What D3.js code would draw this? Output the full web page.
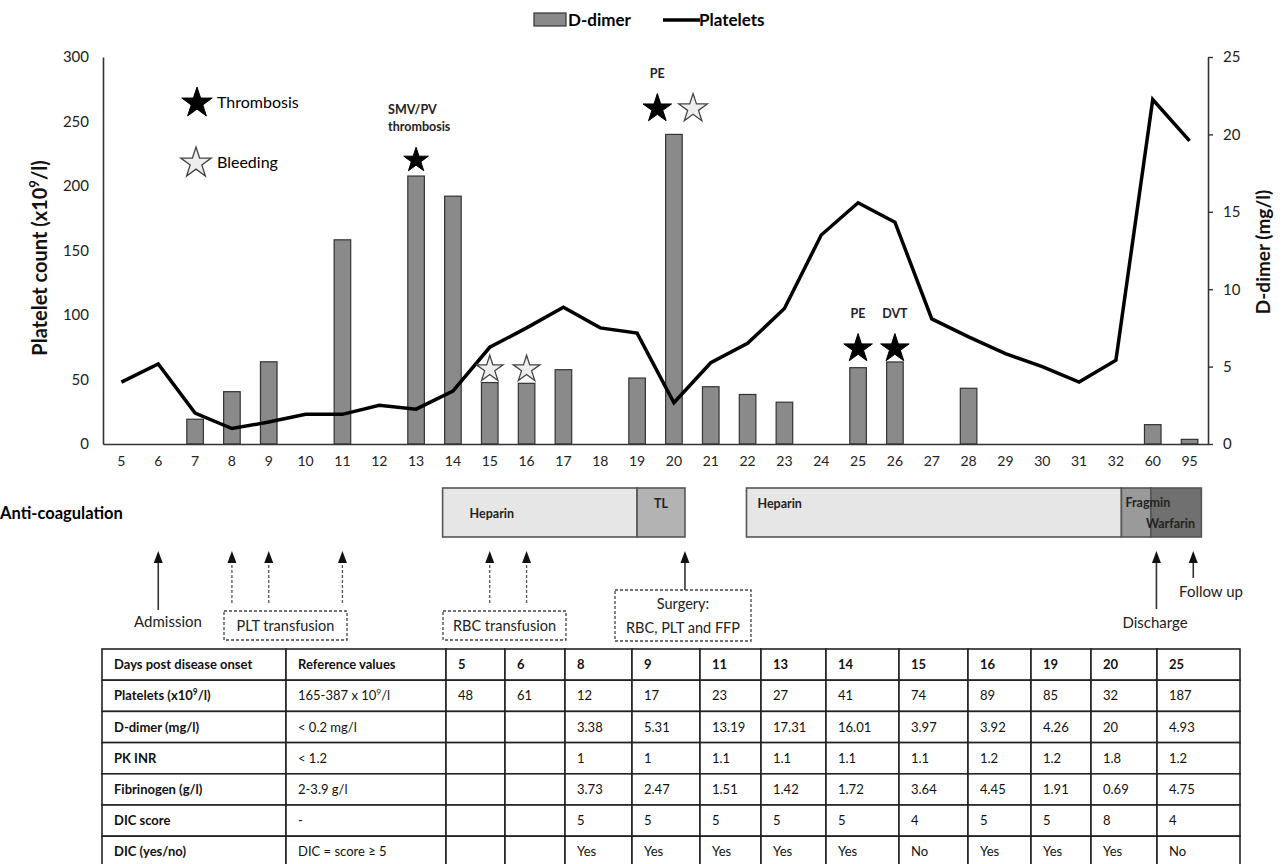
<!DOCTYPE html>
<html>
<head>
<meta charset="utf-8">
<script src="https://cdn.jsdelivr.net/npm/d3@7"></script>
<style>
  body { margin: 0; background: #fff; }
  svg { font-family: Lato, "Open Sans", sans-serif; }
</style>
</head>
<body>
<svg id="chart" width="1283" height="864"></svg>
<script>
// --- data ---
const days = ['5','6','7','8','9','10','11','12','13','14','15','16','17','18','19','20',
              '21','22','23','24','25','26','27','28','29','30','31','32','60','95'];
const platelets = [48,62,24,12,17,23,23,30,27,41,75,90,106,90,86,32,
                   63,78,105,162,187,172,97,83,70,60,48,65,267,235];
const ddimer = [null,null,1.6,3.38,5.31,null,13.19,null,17.31,16.01,3.97,3.92,4.8,null,4.26,20,
                3.7,3.2,2.7,null,4.93,5.3,null,3.6,null,null,null,null,1.25,0.3];

// events: day, kind, level on platelet scale
const eventDays   = ['13','15','16','20','20','25','26'];
const eventKinds  = ['thrombosis','bleeding','bleeding','thrombosis','bleeding','thrombosis','thrombosis'];
const eventLevels = [220,58,58,260,260,74,74];
const eventNotes  = [['SMV/PV','thrombosis'],[],[],['PE'],[],['PE'],['DVT']];

// anti-coagulation periods, in day-index units
const treatNames = ['Heparin','TL','Heparin','Fragmin','Warfarin'];
const treatFrom  = [8.72,14.0,16.97,27.15,27.95];
const treatTo    = [14.0,15.3,27.15,27.95,29.32];

// table
const tableHeader = ['Days post disease onset','Reference values','5','6','8','9','11','13','14','15','16','19','20','25'];
const tableRows = [
  ['Platelets (x10⁹/l)','165-387 x 10⁹/l','48','61','12','17','23','27','41','74','89','85','32','187'],
  ['D-dimer (mg/l)','< 0.2 mg/l','','','3.38','5.31','13.19','17.31','16.01','3.97','3.92','4.26','20','4.93'],
  ['PK INR','< 1.2','','','1','1','1.1','1.1','1.1','1.1','1.2','1.2','1.8','1.2'],
  ['Fibrinogen (g/l)','2-3.9 g/l','','','3.73','2.47','1.51','1.42','1.72','3.64','4.45','1.91','0.69','4.75'],
  ['DIC score','-','','','5','5','5','5','5','4','5','5','8','4'],
  ['DIC (yes/no)','DIC = score ≥ 5','','','Yes','Yes','Yes','Yes','Yes','No','Yes','Yes','Yes','No']
];

const svg = d3.select('#chart');

// writes text, turning "⁹" into a real superscript tspan
function supText(sel, str){
  var parts = str.split('⁹');
  parts.forEach(function(p,i){
    if (i > 0) sel.append('tspan').attr('baseline-shift','super').style('font-size','65%').text('9');
    sel.append('tspan').text(p);
  });
  return sel;
}

// --- scales ---
var x = d3.scaleBand().domain(days).range([103,1208]).padding(0);
var yL = d3.scaleLinear().domain([0,300]).range([444,57]);
var yR = d3.scaleLinear().domain([0,25]).range([444,57]);
var xi = function(i){ return x.range()[0] + x.step()*(i+0.5); };
var cx = function(d){ return x(d) + x.bandwidth()/2; };

// --- bars ---
var barW = x.step()*0.45;
svg.append('g').selectAll('rect')
  .data(days.map(function(d,i){ return {day:d, v:ddimer[i]}; }).filter(function(d){ return d.v != null; }))
  .enter().append('rect')
  .attr('x', function(d){ return cx(d.day) - barW/2; })
  .attr('y', function(d){ return yR(d.v); })
  .attr('width', barW)
  .attr('height', function(d){ return yR(0) - yR(d.v); })
  .style('fill','#8a8a8a').style('stroke','#333').style('stroke-width',1.2);

// --- axes ---
var axL = svg.append('g').attr('transform','translate(103,0)')
  .call(d3.axisLeft(yL).tickValues([0,50,100,150,200,250,300]).tickSize(0).tickPadding(14));
var axR = svg.append('g').attr('transform','translate(1208,0)')
  .call(d3.axisRight(yR).ticks(5).tickSizeInner(5).tickSizeOuter(0).tickPadding(10));
var axB = svg.append('g').attr('transform','translate(0,444)')
  .call(d3.axisBottom(x).tickSize(0).tickPadding(12));
[axL,axR,axB].forEach(function(a){
  a.select('.domain').style('stroke','#333').style('stroke-width',1.6);
  a.selectAll('.tick line').style('stroke','#333').style('stroke-width',1.4);
  a.selectAll('text').style('font-family','Lato, sans-serif').style('fill','#222');
});
axL.selectAll('text').style('font-size','15px');
axR.selectAll('text').style('font-size','15px');
axB.selectAll('text').style('font-size','14px');

supText(svg.append('text').attr('transform','translate(47,258) rotate(-90)')
  .attr('text-anchor','middle').style('font-size','20px').style('font-weight','bold').style('fill','#111'),
  'Platelet count (x10⁹/l)');
svg.append('text').attr('transform','translate(1270,252) rotate(-90)')
  .attr('text-anchor','middle').style('font-size','19px').style('font-weight','bold').style('fill','#111')
  .text('D-dimer (mg/l)');

// --- platelet line ---
var line = d3.line().x(function(d,i){ return cx(days[i]); }).y(function(d){ return yL(d); });
svg.append('path').datum(platelets).attr('d',line)
  .style('fill','none').style('stroke','#000').style('stroke-width',3.5).style('stroke-linejoin','miter');

// --- legend ---
var lg = svg.append('g').style('font-size','17px').style('font-weight','bold');
lg.append('rect').attr('x',534).attr('y',13).attr('width',32).attr('height',13)
  .style('fill','#8a8a8a').style('stroke','#333').style('stroke-width',1.2);
lg.append('text').attr('x',568).attr('y',26).text('D-dimer');
lg.append('line').attr('x1',663).attr('x2',700).attr('y1',20).attr('y2',20)
  .style('stroke','#000').style('stroke-width',3.5);
lg.append('text').attr('x',699).attr('y',26).text('Platelets');

// --- stars ---
function starPath(r){ return d3.symbol().type(d3.symbolStar).size(r*r/0.8908)(); }
function drawStar(g, px, py, r, kind){
  g.append('path').attr('d',starPath(r)).attr('transform','translate('+px+','+py+')')
    .style('fill', kind==='thrombosis' ? '#000' : '#eeeeee')
    .style('stroke', kind==='thrombosis' ? '#000' : '#444')
    .style('stroke-width', kind==='thrombosis' ? 1 : 1.3);
}
var sg = svg.append('g');
drawStar(sg, 197, 103, 16, 'thrombosis');
drawStar(sg, 196, 163, 16, 'bleeding');
sg.append('text').attr('x',217).attr('y',108).style('font-size','16px').text('Thrombosis');
sg.append('text').attr('x',217).attr('y',168).style('font-size','16px').text('Bleeding');

eventDays.forEach(function(d,i){
  var same = eventDays.filter(function(e){ return e===d; }).length;
  var first = eventDays.indexOf(d) === i;
  var shift = same > 1 ? (first ? -0.45 : 0.52) * x.step() : 0;
  var r = eventKinds[i]==='bleeding' && same===1 ? 14 : (d==='13' ? 13 : 15);
  var px = cx(d) + shift, py = yL(eventLevels[i]);
  drawStar(sg, px, py, r, eventKinds[i]);
  var notes = eventNotes[i];
  notes.forEach(function(t,j){
    sg.append('text')
      .attr('x', notes.length > 1 ? px - 28 : px)
      .attr('y', py - r - 16 - (notes.length-1-j)*17)
      .attr('text-anchor', notes.length > 1 ? 'start' : 'middle')
      .style('font-size','12.5px').style('font-weight','bold').style('fill','#222')
      .text(t);
  });
});

// --- anti-coagulation row ---
var ac = svg.append('g');
ac.append('text').attr('x',0).attr('y',519).style('font-size','16.5px').style('font-weight','bold').text('Anti-coagulation');
var treatFill = {'Heparin':'#e6e6e6','TL':'#b3b3b3','Fragmin':'#9a9a9a','Warfarin':'#707070'};
treatNames.forEach(function(n,i){
  ac.append('rect').attr('x',xi(treatFrom[i])).attr('y',488)
    .attr('width',xi(treatTo[i])-xi(treatFrom[i])).attr('height',49)
    .style('fill',treatFill[n]).style('stroke','#555').style('stroke-width',1.6);
});
var tl = ac.append('g').style('font-size','12.5px').style('font-weight','bold').style('fill','#222');
tl.append('text').attr('x',xi(treatFrom[0])+27).attr('y',518).text('Heparin');
tl.append('text').attr('x',(xi(treatFrom[1])+xi(treatTo[1]))/2).attr('y',508).attr('text-anchor','middle').text('TL');
tl.append('text').attr('x',xi(treatFrom[2])+11).attr('y',508).text('Heparin');
tl.append('text').attr('x',xi(treatFrom[3])+4).attr('y',507).text('Fragmin');
tl.append('text').attr('x',xi(treatFrom[4])-5).attr('y',528).text('Warfarin');

// --- arrows ---
var arrowPos  = [1, 3, 4, 6, 10, 11, 15.3, 28.1, 29.1];
var arrowEnd  = [610, 605, 605, 605, 605, 605, 590, 609, 578];
var arrowDash = [false, true, true, true, true, true, false, false, false];
var ar = svg.append('g');
arrowPos.forEach(function(p,i){
  var px = xi(p);
  ar.append('line').attr('x1',px).attr('x2',px).attr('y1',560).attr('y2',arrowEnd[i])
    .style('stroke', arrowDash[i] ? '#555' : '#333').style('stroke-width', arrowDash[i] ? 1.3 : 1.6)
    .style('stroke-dasharray', arrowDash[i] ? '3,2' : null);
  ar.append('path').attr('d','M'+px+',551 L'+(px-4.5)+',563 L'+(px+4.5)+',563 Z').style('fill','#111');
});

var boxes = [
  {x0:224, x1:347, y0:611, y1:640, lines:['PLT transfusion']},
  {x0:443, x1:566, y0:611, y1:640, lines:['RBC transfusion']},
  {x0:615, x1:751, y0:590, y1:641, lines:['Surgery:','RBC, PLT and FFP']}
];
boxes.forEach(function(b){
  ar.append('rect').attr('x',b.x0).attr('y',b.y0).attr('width',b.x1-b.x0).attr('height',b.y1-b.y0)
    .style('fill','#fff').style('stroke','#444').style('stroke-width',1.3).style('stroke-dasharray','3,2');
  b.lines.forEach(function(t,j){
    ar.append('text').attr('x',(b.x0+b.x1)/2)
      .attr('y', (b.y0+b.y1)/2 + 5 + (j - (b.lines.length-1)/2)*24)
      .attr('text-anchor','middle').style('font-size','14.5px').style('fill','#222').text(t);
  });
});
ar.selectAll('.lbl').data([['Admission',168,627],['Discharge',1155,628],['Follow up',1211,597]])
  .enter().append('text')
  .attr('x',function(d){ return d[1]; }).attr('y',function(d){ return d[2]; })
  .attr('text-anchor','middle').style('font-size','15px').style('fill','#222')
  .text(function(d){ return d[0]; });

// --- table ---
var colW = [184,160,59,60,67,68,61,65,73,69,63,60,66,83];
var colX = [102];
colW.forEach(function(w){ colX.push(colX[colX.length-1]+w); });
var rowH = 31.2, tTop = 649;
var allRows = [tableHeader].concat(tableRows);
var tg = svg.append('g');
allRows.forEach(function(row,r){
  row.forEach(function(cell,c){
    tg.append('rect').attr('x',colX[c]).attr('y',tTop+r*rowH).attr('width',colW[c]).attr('height',rowH)
      .style('fill','#fff').style('stroke','#222').style('stroke-width',1.6);
    supText(tg.append('text').attr('x',colX[c]+12).attr('y',tTop+r*rowH+rowH/2+4.5)
      .style('font-size','13px')
      .style('font-weight', (r===0 || c===0) ? 'bold' : 'normal')
      .style('fill','#111'), cell);
  });
});
</script>
</body>
</html>
